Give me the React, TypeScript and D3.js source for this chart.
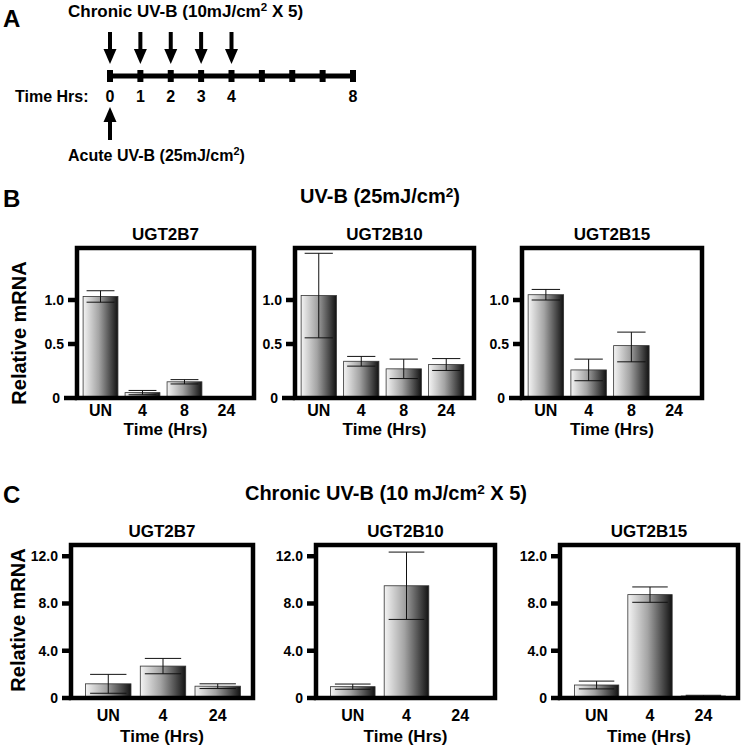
import * as d3 from 'd3';

const FONT = 'Liberation Sans, Arial, Helvetica, sans-serif';

// panel A: dosing schedule
const scheduleTicks = [0, 1, 2, 3, 4, 5, 6, 7, 8];
const scheduleLabels = [0, 1, 2, 3, 4, 8];
const chronicDoseHours = [0, 1, 2, 3, 4];
const acuteDoseHours = [0];

// panel B: acute UV-B
const acuteCategories = ['UN', '4', '8', '24'];
const acuteB7Mean = [1.04, 0.05, 0.15, 0];
const acuteB7Err = [0.065, 0.02, 0.02, 0];
const acuteB10Mean = [1.05, 0.34, 0.27, 0.31];
const acuteB10Err = [0.48, 0.045, 0.09, 0.055];
const acuteB15Mean = [1.06, 0.26, 0.485, 0];
const acuteB15Err = [0.06, 0.1, 0.15, 0];
const acuteTicks = [0, 0.5, 1.0];

// panel C: chronic UV-B
const chronicCategories = ['UN', '4', '24'];
const chronicB7Mean = [1.2, 2.7, 1.0];
const chronicB7Err = [0.8, 0.65, 0.2];
const chronicB10Mean = [0.96, 9.5, 0.05];
const chronicB10Err = [0.22, 2.85, 0];
const chronicB15Mean = [1.1, 8.75, 0.17];
const chronicB15Err = [0.33, 0.65, 0.06];
const chronicTicks = [0, 4, 8, 12];

const genes = ['UGT2B7', 'UGT2B10', 'UGT2B15'];

interface PanelProps {
  x0: number; x1: number; y0: number; y1: number;
  cats: string[];
  means: number[];
  errs: number[];
  y: d3.ScaleLinear<number, number>;
  ticks: number[];
  fmt: (v: number) => string;
  title: string;
  titleY: number;
  catY: number;
  timeY: number;
  zeroExt: number;
  inset: [number, number];
  padOuter: number;
}

function BarPanel(p: PanelProps) {
  const x = d3.scaleBand<string>()
    .domain(p.cats)
    .range([p.x0 + p.inset[0], p.x1 - p.inset[1]])
    .paddingInner(0.17)
    .paddingOuter(p.padOuter);
  const bw = x.bandwidth();
  const cx = (p.x0 + p.x1) / 2;
  const tickLen = 9;

  return (
    <g>
      {p.cats.map((c, i) => {
        const v = p.means[i];
        if (v <= 0) return null;
        const top = p.y(v);
        return (
          <rect key={'b' + c} x={x(c)} y={top} width={bw} height={p.y(0) - top}
            fill="url(#barGrad)" stroke="#333" strokeWidth={0.8} />
        );
      })}
      {p.cats.map((c, i) => {
        const e = p.errs[i];
        if (e <= 0) return null;
        const m = (x(c) as number) + bw / 2;
        const hi = p.y(p.means[i] + e);
        const lo = p.y(Math.max(0, p.means[i] - e));
        const cap = bw * 0.4;
        return (
          <g key={'e' + c} stroke="#111" strokeWidth={1}>
            <line x1={m} x2={m} y1={hi} y2={lo} />
            <line x1={m - cap} x2={m + cap} y1={hi} y2={hi} />
            <line x1={m - cap} x2={m + cap} y1={lo} y2={lo} />
          </g>
        );
      })}
      <rect x={p.x0} y={p.y0} width={p.x1 - p.x0} height={p.y1 - p.y0}
        fill="none" stroke="#000" strokeWidth={4.5} />
      <line x1={p.x0 - p.zeroExt} x2={p.x0} y1={p.y1} y2={p.y1} stroke="#000" strokeWidth={4.5} />
      {p.ticks.map(t => {
        const ty = t === 0 ? p.y1 : p.y(t);
        const start = t === 0 ? p.x0 - p.zeroExt : p.x0 - tickLen;
        return (
          <g key={'t' + t}>
            {t !== 0 && (
              <line x1={start} x2={p.x0} y1={ty} y2={ty} stroke="#000" strokeWidth={4.5} />
            )}
            <text x={start - 4} y={ty + 5} textAnchor="end" fontSize={14}
              fontWeight="bold" fontFamily={FONT}>{p.fmt(t)}</text>
          </g>
        );
      })}
      {p.cats.map(c => (
        <text key={'c' + c} x={(x(c) as number) + bw / 2} y={p.catY} textAnchor="middle"
          fontSize={16} fontWeight="bold" fontFamily={FONT}>{c}</text>
      ))}
      <text x={cx} y={p.titleY} textAnchor="middle" fontSize={17} fontWeight="bold"
        fontFamily={FONT}>{p.title}</text>
      <text x={cx} y={p.timeY} textAnchor="middle" fontSize={17} fontWeight="bold"
        fontFamily={FONT}>Time (Hrs)</text>
    </g>
  );
}

function DownArrow({ x, yTop, yTip }: { x: number; yTop: number; yTip: number }) {
  const head = 15;
  return (
    <g>
      <line x1={x} x2={x} y1={yTop} y2={yTip - head + 1} stroke="#000" strokeWidth={4} />
      <path d={`M${x - 6.5},${yTip - head} L${x + 6.5},${yTip - head} L${x},${yTip} Z`} fill="#000" />
    </g>
  );
}

function UpArrow({ x, yTip, yBottom }: { x: number; yTip: number; yBottom: number }) {
  const head = 15;
  return (
    <g>
      <line x1={x} x2={x} y1={yTip + head - 1} y2={yBottom} stroke="#000" strokeWidth={4} />
      <path d={`M${x - 6.5},${yTip + head} L${x + 6.5},${yTip + head} L${x},${yTip} Z`} fill="#000" />
    </g>
  );
}

function Sup({ children }: { children: string }) {
  return <tspan dy={-6} fontSize="0.68em">{children}</tspan>;
}

export default function App() {
  const tx = d3.scaleLinear().domain([0, 8]).range([110, 353]);
  const lineY = 76;

  const bFrames = [
    { x0: 77, x1: 254 },
    { x0: 295, x1: 474 },
    { x0: 522, x1: 702 },
  ];
  const cFrames = [
    { x0: 71, x1: 253 },
    { x0: 316, x1: 495 },
    { x0: 560, x1: 738 },
  ];
  const bMeans = [acuteB7Mean, acuteB10Mean, acuteB15Mean];
  const bErrs = [acuteB7Err, acuteB10Err, acuteB15Err];
  const cMeans = [chronicB7Mean, chronicB10Mean, chronicB15Mean];
  const cErrs = [chronicB7Err, chronicB10Err, chronicB15Err];

  const bY0 = 248, bY1 = 398;
  const yB = d3.scaleLinear().domain([0, 0.5, 1.0, 1.59]).range([bY1, 344, 300, bY0]);
  const cY0 = 545, cY1 = 698;
  const yC = d3.scaleLinear().domain([0, 12.95]).range([cY1, cY0]);

  return (
    <svg width={745} height={750} style={{ position: 'absolute', left: 0, top: 0, background: '#fff' }}>
      <defs>
        <linearGradient id="barGrad" x1="0" y1="0" x2="1" y2="0">
          <stop offset="0%" stopColor="#f4f4f4" />
          <stop offset="45%" stopColor="#a4a4a4" />
          <stop offset="100%" stopColor="#121212" />
        </linearGradient>
      </defs>
      <rect width={745} height={750} fill="#fff" />

      {/* Panel A */}
      <text x={3} y={27} fontSize={24} fontWeight="bold" fontFamily={FONT}>A</text>
      <text x={68} y={17} fontSize={17} fontWeight="bold" fontFamily={FONT}>
        Chronic UV-B (10mJ/cm<Sup>2</Sup><tspan dy={6}> X 5)</tspan>
      </text>
      {chronicDoseHours.map(h => (
        <DownArrow key={'d' + h} x={tx(h)} yTop={32} yTip={64} />
      ))}
      <line x1={tx(0)} x2={tx(8)} y1={lineY} y2={lineY} stroke="#000" strokeWidth={5} />
      {scheduleTicks.map(h => (
        <rect key={'s' + h} x={tx(h) - 3} y={lineY - 6} width={6} height={12} fill="#000" />
      ))}
      <text x={15} y={102} fontSize={16} fontWeight="bold" fontFamily={FONT}>Time Hrs:</text>
      {scheduleLabels.map(h => (
        <text key={'l' + h} x={tx(h)} y={102} textAnchor="middle" fontSize={16}
          fontWeight="bold" fontFamily={FONT}>{h}</text>
      ))}
      {acuteDoseHours.map(h => (
        <UpArrow key={'u' + h} x={tx(h)} yTip={107} yBottom={140} />
      ))}
      <text x={68} y={161} fontSize={16} fontWeight="bold" fontFamily={FONT}>
        Acute UV-B (25mJ/cm<Sup>2</Sup><tspan dy={6}>)</tspan>
      </text>

      {/* Panel B */}
      <text x={3} y={207} fontSize={24} fontWeight="bold" fontFamily={FONT}>B</text>
      <text x={380} y={203} textAnchor="middle" fontSize={20} fontWeight="bold" fontFamily={FONT}>
        UV-B (25mJ/cm<Sup>2</Sup><tspan dy={6}>)</tspan>
      </text>
      <text transform={`translate(26,333) rotate(-90)`} textAnchor="middle" fontSize={20}
        fontWeight="bold" fontFamily={FONT}>Relative mRNA</text>
      {genes.map((g, i) => (
        <BarPanel key={'B' + g} x0={bFrames[i].x0} x1={bFrames[i].x1} y0={bY0} y1={bY1}
          cats={acuteCategories} means={bMeans[i]} errs={bErrs[i]} y={yB}
          ticks={acuteTicks} fmt={v => (v === 0 ? '0' : v.toFixed(1))}
          title={g} titleY={240} catY={416} timeY={435} zeroExt={13}
          inset={[4, 8]} padOuter={0.05} />
      ))}

      {/* Panel C */}
      <text x={3} y={503} fontSize={24} fontWeight="bold" fontFamily={FONT}>C</text>
      <text x={386} y={500} textAnchor="middle" fontSize={20} fontWeight="bold" fontFamily={FONT}>
        Chronic UV-B (10 mJ/cm<Sup>2</Sup><tspan dy={6}> X 5)</tspan>
      </text>
      <text transform={`translate(25,620) rotate(-90)`} textAnchor="middle" fontSize={20}
        fontWeight="bold" fontFamily={FONT}>Relative mRNA</text>
      {genes.map((g, i) => (
        <BarPanel key={'C' + g} x0={cFrames[i].x0} x1={cFrames[i].x1} y0={cY0} y1={cY1}
          cats={chronicCategories} means={cMeans[i]} errs={cErrs[i]} y={yC}
          ticks={chronicTicks} fmt={v => (v === 0 ? '0' : v.toFixed(1))}
          title={g} titleY={537} catY={721} timeY={742} zeroExt={9}
          inset={[8, 6]} padOuter={0.12} />
      ))}
    </svg>
  );
}
